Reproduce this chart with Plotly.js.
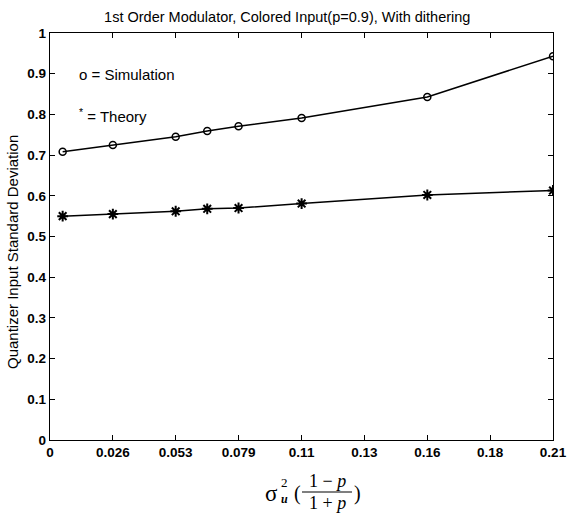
<!DOCTYPE html>
<html>
<head>
<meta charset="utf-8">
<script src="https://cdn.plot.ly/plotly-3.0.1.min.js"></script>
<style>html,body{margin:0;padding:0;background:#fff;}#chart{width:578px;height:514px;}</style>
</head>
<body>
<div id="chart"></div>
<script>
// x positions: sigma_u^2 * (1-p)/(1+p)
const xValues = [0.0053, 0.0263, 0.0526, 0.0658, 0.0789, 0.1053, 0.1579, 0.2105];
const simulation = [0.708, 0.725, 0.745, 0.759, 0.771, 0.791, 0.843, 0.943];
const theory = [0.550, 0.555, 0.562, 0.568, 0.570, 0.581, 0.602, 0.613];
const xTickVals = [0, 0.0263, 0.0526, 0.0789, 0.1053, 0.1316, 0.1579, 0.1842, 0.2105];
const xTickText = ['0', '0.026', '0.053', '0.079', '0.11', '0.13', '0.16', '0.18', '0.21'];
const yTickVals = [0, 0.1, 0.2, 0.3, 0.4, 0.5, 0.6, 0.7, 0.8, 0.9, 1];
const yTickText = ['0', '0.1', '0.2', '0.3', '0.4', '0.5', '0.6', '0.7', '0.8', '0.9', '1'];

const sans = 'Arial, Liberation Sans, sans-serif';
const tickFont = {family: sans, size: 13.5, color: '#000', weight: 'bold'};

const traces = [
  {x: xValues, y: simulation, mode: 'lines+markers', name: 'Simulation',
   line: {color: '#000', width: 1.5},
   marker: {symbol: 'circle-open', size: 7, color: '#000', line: {width: 1.5, color: '#000'}}},
  {x: xValues, y: theory, mode: 'lines+markers', name: 'Theory',
   line: {color: '#000', width: 1.5},
   marker: {symbol: 'asterisk-open', size: 9, color: '#000', line: {width: 2, color: '#000'}}}
];

const tnr = 'Times New Roman, Liberation Serif, serif';
const py = v => -(v - 440) / 407;
const px = v => (v - 50) / 503;
const layout = {
  width: 578, height: 514,
  margin: {l: 50, r: 25, t: 33, b: 74},
  paper_bgcolor: '#fff', plot_bgcolor: '#fff',
  showlegend: false,
  title: {text: '1st Order Modulator, Colored Input(p=0.9), With dithering',
          font: {family: sans, size: 14.5, color: '#000'},
          x: 0.497, xanchor: 'center', y: 0.968, yanchor: 'middle'},
  xaxis: {range: [0, 0.2105], tickmode: 'array', tickvals: xTickVals, ticktext: xTickText,
          ticks: 'inside', ticklen: 5, tickwidth: 1, tickcolor: '#000',
          showline: true, linecolor: '#000', linewidth: 1.2, mirror: 'ticks',
          showgrid: false, zeroline: false, tickfont: tickFont},
  yaxis: {range: [0, 1], tickmode: 'array', tickvals: yTickVals, ticktext: yTickText,
          ticks: 'inside', ticklen: 5, tickwidth: 1, tickcolor: '#000',
          showline: true, linecolor: '#000', linewidth: 1.2, mirror: 'ticks',
          showgrid: false, zeroline: false, tickfont: tickFont},
  annotations: [
    {xref: 'paper', yref: 'paper', x: px(13), y: py(252), text: 'Quantizer Input Standard Deviation',
     textangle: -90, showarrow: false, xanchor: 'center', yanchor: 'middle',
     font: {family: sans, size: 15, color: '#000'}},
    {xref: 'paper', yref: 'paper', x: px(77), y: py(75), text: 'o = Simulation', showarrow: false,
     xanchor: 'left', yanchor: 'middle', font: {family: sans, size: 15, color: '#000'}},
    {xref: 'paper', yref: 'paper', x: px(77), y: py(115), text: '<sup>*</sup> = Theory', showarrow: false,
     xanchor: 'left', yanchor: 'middle', font: {family: sans, size: 15, color: '#000'}},
    // x-axis label: sigma_u^2 ((1-p)/(1+p))
    {xref: 'paper', yref: 'paper', x: px(271), y: py(493), text: 'σ', showarrow: false,
     xanchor: 'center', yanchor: 'middle', font: {family: tnr, size: 23, color: '#000'}},
    {xref: 'paper', yref: 'paper', x: px(284), y: py(482), text: '2', showarrow: false,
     xanchor: 'center', yanchor: 'middle', font: {family: tnr, size: 13, color: '#000'}},
    {xref: 'paper', yref: 'paper', x: px(284), y: py(499), text: '<i><b>u</b></i>', showarrow: false,
     xanchor: 'center', yanchor: 'middle', font: {family: tnr, size: 12, color: '#000'}},
    {xref: 'paper', yref: 'paper', x: px(297), y: py(493), text: '(', showarrow: false,
     xanchor: 'center', yanchor: 'middle', font: {family: tnr, size: 20, color: '#000'}},
    {xref: 'paper', yref: 'paper', x: px(327), y: py(481), text: '1 − <i>p</i>', showarrow: false,
     xanchor: 'center', yanchor: 'middle', font: {family: tnr, size: 18, color: '#000'}},
    {xref: 'paper', yref: 'paper', x: px(327), y: py(503), text: '1 + <i>p</i>', showarrow: false,
     xanchor: 'center', yanchor: 'middle', font: {family: tnr, size: 18, color: '#000'}},
    {xref: 'paper', yref: 'paper', x: px(357), y: py(493), text: ')', showarrow: false,
     xanchor: 'center', yanchor: 'middle', font: {family: tnr, size: 20, color: '#000'}}
  ],
  shapes: [
    {type: 'line', xref: 'paper', yref: 'paper', x0: px(302), x1: px(352),
     y0: py(492), y1: py(492), line: {color: '#000', width: 1.2}}
  ]
};

Plotly.newPlot('chart', traces, layout, {staticPlot: true, displayModeBar: false});
</script>
</body>
</html>
